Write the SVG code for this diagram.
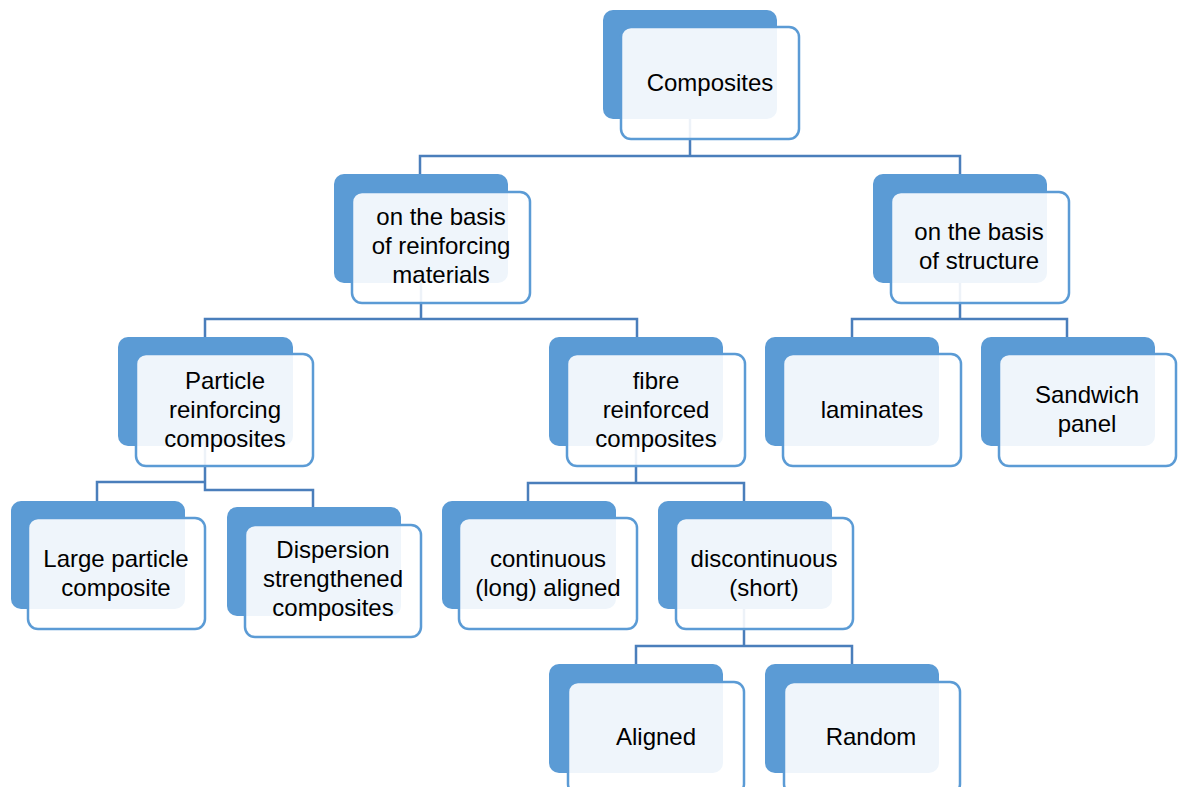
<svg xmlns="http://www.w3.org/2000/svg" width="1185" height="787" viewBox="0 0 1185 787">
<style>
.bk{fill:#5B9BD5;}
.fr{fill:#ffffff;fill-opacity:0.9;stroke:#5B9BD5;stroke-width:2.5;}
.t{font-family:"Liberation Sans",Arial,sans-serif;font-size:24px;fill:#000;text-anchor:middle;}
.c{fill:none;stroke:#4A7EBB;stroke-width:2.5;}
</style>
<rect width="1185" height="787" fill="#ffffff"/>
<g id="connectors">
<path class="c" d="M690,119 V156 M420,174 V156 H960 V174"/>
<path class="c" d="M421,283 V319 M205,337 V319 H637 V337"/>
<path class="c" d="M960,283 V319 M852,337 V319 H1067 V337"/>
<path class="c" d="M205,446 V482 H97 V501 M205,482 V490 H313 V507"/>
<path class="c" d="M636,446 V483 M528,501 V483 H744 V501"/>
<path class="c" d="M744,609 V646 M636,664 V646 H852 V664"/>
</g>
<g id="n-composites">
<rect class="bk" x="603" y="10" width="174" height="109" rx="10"/>
<rect class="fr" x="621" y="27" width="178" height="112" rx="10"/>
<text class="t" x="710" y="91">Composites</text>
</g>
<g id="n-reinforcing">
<rect class="bk" x="334" y="174" width="174" height="109" rx="10"/>
<rect class="fr" x="352" y="192" width="178" height="111" rx="10"/>
<text class="t" x="441" y="225">on the basis</text>
<text class="t" x="441" y="254">of reinforcing</text>
<text class="t" x="441" y="283">materials</text>
</g>
<g id="n-structure">
<rect class="bk" x="873" y="174" width="174" height="109" rx="10"/>
<rect class="fr" x="891" y="192" width="178" height="111" rx="10"/>
<text class="t" x="979" y="240">on the basis</text>
<text class="t" x="979" y="269">of structure</text>
</g>
<g id="n-particle">
<rect class="bk" x="118" y="337" width="175" height="109" rx="10"/>
<rect class="fr" x="136" y="354" width="177" height="112" rx="10"/>
<text class="t" x="225" y="389">Particle</text>
<text class="t" x="225" y="418">reinforcing</text>
<text class="t" x="225" y="447">composites</text>
</g>
<g id="n-fibre">
<rect class="bk" x="549" y="337" width="174" height="109" rx="10"/>
<rect class="fr" x="567" y="354" width="178" height="112" rx="10"/>
<text class="t" x="656" y="389">fibre</text>
<text class="t" x="656" y="418">reinforced</text>
<text class="t" x="656" y="447">composites</text>
</g>
<g id="n-laminates">
<rect class="bk" x="765" y="337" width="174" height="109" rx="10"/>
<rect class="fr" x="783" y="354" width="178" height="112" rx="10"/>
<text class="t" x="872" y="418">laminates</text>
</g>
<g id="n-sandwich">
<rect class="bk" x="981" y="337" width="174" height="109" rx="10"/>
<rect class="fr" x="999" y="354" width="177" height="112" rx="10"/>
<text class="t" x="1087" y="403">Sandwich</text>
<text class="t" x="1087" y="432">panel</text>
</g>
<g id="n-large">
<rect class="bk" x="11" y="501" width="174" height="108" rx="10"/>
<rect class="fr" x="28" y="518" width="177" height="111" rx="10"/>
<text class="t" x="116" y="567">Large particle</text>
<text class="t" x="116" y="596">composite</text>
</g>
<g id="n-dispersion">
<rect class="bk" x="227" y="507" width="174" height="109" rx="10"/>
<rect class="fr" x="245" y="525" width="176" height="112" rx="10"/>
<text class="t" x="333" y="558">Dispersion</text>
<text class="t" x="333" y="587">strengthened</text>
<text class="t" x="333" y="616">composites</text>
</g>
<g id="n-continuous">
<rect class="bk" x="442" y="501" width="174" height="108" rx="10"/>
<rect class="fr" x="459" y="518" width="178" height="111" rx="10"/>
<text class="t" x="548" y="567">continuous</text>
<text class="t" x="548" y="596">(long) aligned</text>
</g>
<g id="n-discontinuous">
<rect class="bk" x="658" y="501" width="174" height="108" rx="10"/>
<rect class="fr" x="676" y="518" width="177" height="111" rx="10"/>
<text class="t" x="764" y="567">discontinuous</text>
<text class="t" x="764" y="596">(short)</text>
</g>
<g id="n-aligned">
<rect class="bk" x="549" y="664" width="174" height="109" rx="10"/>
<rect class="fr" x="568" y="682" width="176" height="112" rx="10"/>
<text class="t" x="656" y="745">Aligned</text>
</g>
<g id="n-random">
<rect class="bk" x="765" y="664" width="174" height="109" rx="10"/>
<rect class="fr" x="784" y="682" width="176" height="112" rx="10"/>
<text class="t" x="871" y="745">Random</text>
</g>
</svg>
